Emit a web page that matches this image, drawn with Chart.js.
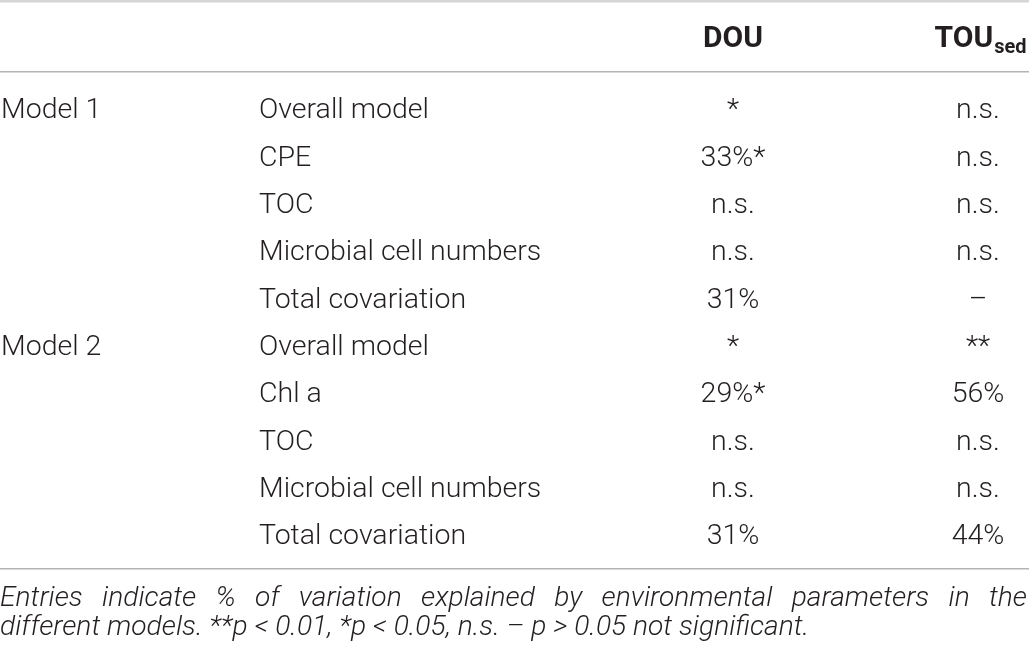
<!DOCTYPE html>
<html>
<head>
<meta charset="utf-8">
<script src="https://cdn.jsdelivr.net/npm/chart.js@4"></script>
<style>
  html, body { margin: 0; padding: 0; background: #fff; }
  #wrap { width: 1029px; height: 650px; position: relative; }
</style>
</head>
<body>
<div id="wrap"><canvas id="myChart"></canvas></div>
<script>
// table content
var models = ['Model 1', '', '', '', '', 'Model 2', '', '', '', ''];
var params = ['Overall model', 'CPE', 'TOC', 'Microbial cell numbers', 'Total covariation',
              'Overall model', 'Chl a', 'TOC', 'Microbial cell numbers', 'Total covariation'];
var dou = ['*', '33%*', 'n.s.', 'n.s.', '31%', '*', '29%*', 'n.s.', 'n.s.', '31%'];
var touSed = ['n.s.', 'n.s.', 'n.s.', 'n.s.', '–', '**', '56%', 'n.s.', 'n.s.', '44%'];
var headers = ['', '', 'DOU', 'TOU'];
var footnote = [
  'Entries indicate % of variation explained by environmental parameters in the',
  'different models. **p < 0.01, *p < 0.05, n.s. – p > 0.05 not significant.'
];

// layout (x anchors on a 0..1029 axis)
var colX = [1, 259, 733, 978];
var colAlign = ['left', 'left', 'center', 'center'];
var ink = '#231f20';
var FONT = 'Roboto, "Liberation Sans", sans-serif';
var SIZE = 28.5;
var HEAD = 30;
var FOOT = 28.2;

function colData(i) {
  return params.map(function (p, r) { return { x: colX[i], y: r }; });
}

var tablePlugin = {
  id: 'tableText',
  afterDatasetsDraw: function (chart) {
    var ctx = chart.ctx;
    var ys = chart.scales.y;
    var xs = chart.scales.x;
    var top = ys.top, bottom = ys.bottom;
    ctx.save();

    // rules
    ctx.fillStyle = '#d6d6d6';
    ctx.fillRect(0, 0, chart.width, 2.5);
    ctx.fillStyle = '#b4b4b4';
    ctx.fillRect(0, top - 37, chart.width, 1.5);
    ctx.fillRect(0, bottom + 34, chart.width, 1.5);

    // cells
    ctx.fillStyle = ink;
    ctx.textBaseline = 'alphabetic';
    ctx.font = '300 ' + SIZE + 'px ' + FONT;
    chart.data.datasets.forEach(function (ds, di) {
      var meta = chart.getDatasetMeta(di);
      ctx.textAlign = colAlign[di];
      meta.data.forEach(function (pt, r) {
        var t = ds.cells[r];
        if (t) ctx.fillText(t, pt.x, pt.y + SIZE * 0.36);
      });
    });

    // header
    var hy = top - 72 + HEAD * 0.36;
    ctx.font = 'bold ' + HEAD + 'px ' + FONT;
    ctx.textAlign = 'center';
    ctx.fillText(headers[2], xs.getPixelForValue(colX[2]), hy);
    var w1 = ctx.measureText(headers[3]).width;
    ctx.font = 'bold 20px ' + FONT;
    var w2 = ctx.measureText('sed').width;
    var x0 = xs.getPixelForValue(colX[3]) - (w1 + w2) / 2 + 2;
    ctx.textAlign = 'left';
    ctx.font = 'bold ' + HEAD + 'px ' + FONT;
    ctx.fillText(headers[3], x0, hy);
    ctx.font = 'bold 20px ' + FONT;
    ctx.fillText('sed', x0 + w1 + 1, hy + 6);

    // footnote, first line justified
    ctx.font = 'italic 300 ' + FOOT + 'px ' + FONT;
    ctx.textAlign = 'left';
    var fy = bottom + 72;
    var words = footnote[0].split(' ');
    var tw = 0;
    words.forEach(function (w) { tw += ctx.measureText(w).width; });
    var gap = (chart.width - 2 - tw) / (words.length - 1);
    var cx = 0;
    words.forEach(function (w) {
      ctx.fillText(w, cx, fy);
      cx += ctx.measureText(w).width + gap;
    });
    ctx.fillText(footnote[1], 0, fy + 29);
    ctx.restore();
  }
};

var cellSets = [models, params, dou, touSed];
var myChart = new Chart(document.getElementById('myChart'), {
  type: 'scatter',
  data: {
    labels: params,
    datasets: cellSets.map(function (cells, i) {
      return { data: colData(i), cells: cells, pointRadius: 0, showLine: false };
    })
  },
  options: {
    responsive: true,
    maintainAspectRatio: false,
    animation: false,
    events: [],
    layout: { padding: { top: 108, bottom: 116, left: 0, right: 0 } },
    plugins: { legend: { display: false }, tooltip: { enabled: false } },
    scales: {
      x: { type: 'linear', min: 0, max: 1029, display: false },
      y: { type: 'category', labels: params, offset: false, display: false }
    }
  },
  plugins: [tablePlugin]
});
</script>
</body>
</html>
